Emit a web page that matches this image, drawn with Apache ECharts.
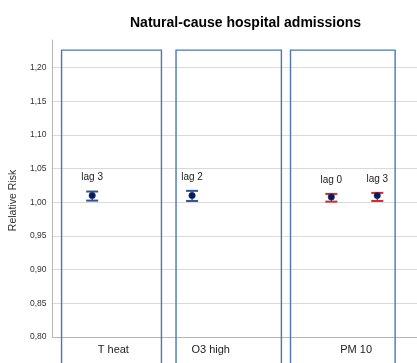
<!DOCTYPE html>
<html>
<head>
<meta charset="utf-8">
<script src="https://cdn.jsdelivr.net/npm/echarts@6/dist/echarts.min.js"></script>
<style>
  html, body { margin: 0; padding: 0; background: #fff; }
  #chart { width: 417px; height: 363px; }
</style>
</head>
<body>
<div id="chart"></div>
<script>
// Panels (exposures), positions on a 0–100 horizontal scale
const panelNames = ['T heat', 'O3 high', 'PM 10'];
const panelStart = [2.5, 33.9, 65.3];
const panelEnd = [29.9, 62.8, 94.0];
const panelLabelX = [16.7, 43.4, 83.3];

// Relative risk estimates with 95% confidence limits
const lagLabels = ['lag 3', 'lag 2', 'lag 0', 'lag 3'];
const lagX = [10.9, 38.3, 76.5, 89.1];
const rrValues = [1.010, 1.010, 1.008, 1.010];
const rrLower = [1.0025, 1.002, 1.001, 1.002];
const rrUpper = [1.016, 1.017, 1.0125, 1.014];
const capColors = ['#2f5597', '#2f5597', '#d9262b', '#d9262b'];

const yMin = 0.80;
const yMax = 1.241;
const yStep = 0.05;
const panelTop = 1.226;
const panelBottom = 0.74;

const FONT = "'Liberation Sans', Arial, sans-serif";

const chart = echarts.init(document.getElementById('chart'), null, { renderer: 'canvas' });

const option = {
  animation: false,
  backgroundColor: '#ffffff',
  title: {
    text: 'Natural-cause hospital admissions',
    left: 125,
    top: 11,
    textStyle: { fontFamily: FONT, fontSize: 14, fontWeight: 'bold', color: '#000' }
  },
  grid: { left: 51, right: 0, top: 40, bottom: 26 },
  xAxis: {
    type: 'value',
    min: 0,
    max: 100,
    axisLine: { show: true, onZero: false, lineStyle: { color: '#b5b5b5', width: 1 } },
    axisTick: { show: false },
    axisLabel: { show: false },
    splitLine: { show: false }
  },
  yAxis: {
    type: 'value',
    min: yMin,
    max: yMax,
    interval: yStep,
    name: 'Relative Risk',
    nameLocation: 'middle',
    nameGap: 33,
    nameTextStyle: { fontFamily: FONT, fontSize: 10.5, color: '#333', padding: [0, 24, 0, 0] },
    axisLine: { show: true, lineStyle: { color: '#b5b5b5', width: 1 } },
    axisTick: { show: false },
    axisLabel: {
      fontFamily: FONT, fontSize: 8.5, color: '#333', margin: 6,
      showMaxLabel: false,
      formatter: v => v.toFixed(2).replace('.', ',')
    },
    splitLine: { show: true, showMaxLine: false, showMinLine: false, lineStyle: { color: '#d9d9d9', width: 1 } }
  },
  series: [
    {
      // panel frames and their category labels
      type: 'custom',
      clip: false,
      z: 2,
      silent: true,
      data: panelNames.map((n, i) => [panelStart[i], panelEnd[i], panelLabelX[i]]),
      renderItem: (params, api) => {
        const i = params.dataIndex;
        const tl = api.coord([api.value(0), panelTop]);
        const br = api.coord([api.value(1), panelBottom]);
        const lab = api.coord([api.value(2), yMin]);
        return {
          type: 'group',
          children: [
            {
              type: 'rect',
              shape: { x: tl[0], y: tl[1], width: br[0] - tl[0], height: br[1] - tl[1] },
              style: { fill: 'none', stroke: '#4b78ae', lineWidth: 1.4 }
            },
            {
              type: 'text',
              style: {
                x: lab[0], y: lab[1] + 13,
                text: panelNames[i],
                fill: '#222', font: '11px ' + FONT,
                align: 'center', verticalAlign: 'middle'
              }
            }
          ]
        };
      }
    },
    {
      // confidence intervals with caps and lag labels
      type: 'custom',
      clip: false,
      z: 3,
      silent: true,
      data: lagX.map((x, i) => [x, rrLower[i], rrUpper[i]]),
      renderItem: (params, api) => {
        const i = params.dataIndex;
        const lo = api.coord([api.value(0), api.value(1)]);
        const hi = api.coord([api.value(0), api.value(2)]);
        const hw = 6;
        const col = capColors[i];
        return {
          type: 'group',
          children: [
            { type: 'line', shape: { x1: lo[0], y1: lo[1], x2: hi[0], y2: hi[1] },
              style: { stroke: '#1f3a75', lineWidth: 1.2 } },
            { type: 'line', shape: { x1: lo[0] - hw, y1: lo[1], x2: lo[0] + hw, y2: lo[1] },
              style: { stroke: col, lineWidth: 2 } },
            { type: 'line', shape: { x1: hi[0] - hw, y1: hi[1], x2: hi[0] + hw, y2: hi[1] },
              style: { stroke: col, lineWidth: 2 } },
            { type: 'text',
              style: { x: hi[0], y: hi[1] - 14, text: lagLabels[i], fill: '#222',
                       font: '10px ' + FONT, align: 'center', verticalAlign: 'middle' } }
          ]
        };
      }
    },
    {
      // point estimates
      type: 'scatter',
      z: 4,
      silent: true,
      symbol: 'circle',
      symbolSize: 6.5,
      itemStyle: { color: '#0b1a57', borderColor: '#263f86', borderWidth: 0.5, opacity: 1 },
      data: lagX.map((x, i) => [x, rrValues[i]])
    }
  ]
};

chart.setOption(option);
</script>
</body>
</html>
